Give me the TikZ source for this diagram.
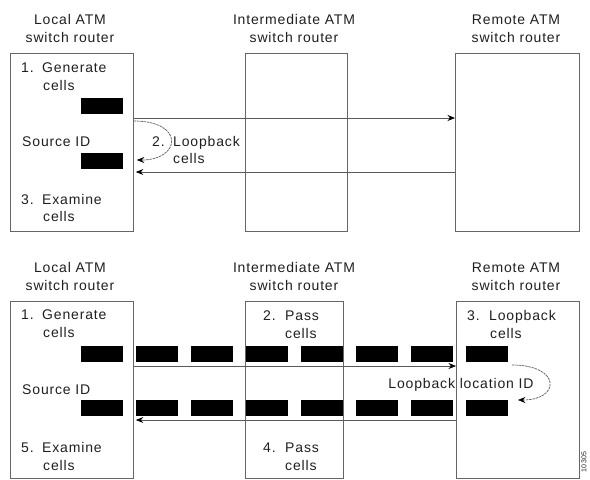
\documentclass[tikz,border=0pt]{standalone}
\usepackage{fontspec}
\setmainfont{Liberation Sans}[LetterSpace=6]
\usetikzlibrary{arrows.meta}
\begin{document}
\begin{tikzpicture}[x=1pt,y=-1pt,
  every node/.style={font=\fontsize{14}{16}\selectfont, text=black!88},
  box/.style={draw=black!60, line width=0.8pt, anchor=north west, inner sep=0pt},
  cellbox/.style={fill=black, draw=none, anchor=north west, inner sep=0pt, minimum width=41.5pt, minimum height=15.5pt},
  lbl/.style={anchor=base west, inner sep=0pt},
  ttl/.style={anchor=base, inner sep=0pt},
  conn/.style={draw=black!65, line width=0.7pt, -{Stealth[length=7.5pt,width=6pt,color=black]}},
  loopc/.style={draw=black!65, line width=0.7pt, dash pattern=on 2.5pt off 0.8pt, -{Stealth[length=7.5pt,width=6pt,color=black]}}
]
\useasboundingbox (0,0) rectangle (590,480);
% ---------- top panel ----------
\node[box, minimum width=123pt, minimum height=178pt] (L1) at (10,53) {};
\node[box, minimum width=102pt, minimum height=178pt] (M1) at (245,53) {};
\node[box, minimum width=124pt, minimum height=178pt] (R1) at (455,53) {};
\node[ttl] (tl1a) at (70,24) {Local ATM};
\node[ttl] (tl1b) at (70,42) {switch router};
\node[ttl] (tm1a) at (294,24) {Intermediate ATM};
\node[ttl] (tm1b) at (294,42) {switch router};
\node[ttl] (tr1a) at (516,24) {Remote ATM};
\node[ttl] (tr1b) at (516,42) {switch router};
\node[lbl] (n1) at (21,72) {1.};
\node[lbl] (g1) at (42,72) {Generate};
\node[lbl] (c1) at (43,90) {cells};
\node[lbl] (s1) at (22,146) {Source ID};
\node[lbl] (n3) at (21,204) {3.};
\node[lbl] (e1) at (42,204) {Examine};
\node[lbl] (c3) at (43,221) {cells};
\node[cellbox] (k1) at (81,98) {};
\node[cellbox] (k2) at (81,153) {};
\node[lbl] (n2) at (152,146) {2.};
\node[lbl] (lb1) at (173,146) {Loopback};
\node[lbl] (lc1) at (173,163) {cells};
\draw[conn] (L1.east |- 0,118) -- (R1.west |- 0,118);
\draw[conn] (R1.west |- 0,172) -- ([xshift=2pt]L1.east |- 0,172);
\draw[loopc] (L1.east |- 0,121) .. controls (185,121) and (181,160) .. ([xshift=3pt]L1.east |- 0,160);
% ---------- bottom panel ----------
\node[box, minimum width=123pt, minimum height=177pt] (L2) at (10,301) {};
\node[box, minimum width=98pt, minimum height=177pt] (M2) at (245,301) {};
\node[box, minimum width=123pt, minimum height=177pt] (R2) at (456,301) {};
\node[ttl] (tl2a) at (70,272) {Local ATM};
\node[ttl] (tl2b) at (70,290) {switch router};
\node[ttl] (tm2a) at (294,272) {Intermediate ATM};
\node[ttl] (tm2b) at (294,290) {switch router};
\node[ttl] (tr2a) at (516,272) {Remote ATM};
\node[ttl] (tr2b) at (516,290) {switch router};
\node[lbl] (b1) at (21,319) {1.};
\node[lbl] (bg) at (42,319) {Generate};
\node[lbl] (bc1) at (43,337) {cells};
\node[lbl] (bs) at (22,394) {Source ID};
\node[lbl] (b5) at (21,452) {5.};
\node[lbl] (be) at (42,452) {Examine};
\node[lbl] (bc5) at (43,470) {cells};
\node[lbl] (b2) at (263,320) {2.};
\node[lbl] (bp2) at (285,320) {Pass};
\node[lbl] (bc2) at (285,338) {cells};
\node[lbl] (b4) at (263,452) {4.};
\node[lbl] (bp4) at (285,452) {Pass};
\node[lbl] (bc4) at (285,470) {cells};
\node[lbl] (b3) at (467,320) {3.};
\node[lbl] (blb) at (489,320) {Loopback};
\node[lbl] (bc3) at (490,338) {cells};
\node[ttl] (lli) at (461,388) {Loopback location ID};
\foreach \i/\x in {1/81,2/136,3/191,4/246,5/301,6/356,7/411,8/466}{
  \node[cellbox] (u\i) at (\x,346) {};
  \node[cellbox] (d\i) at (\x,400) {};
}
\draw[conn] (L2.east |- 0,366) -- (R2.west |- 0,366);
\draw[conn] (R2.west |- 0,420) -- ([xshift=2pt]L2.east |- 0,420);
\draw[loopc] (512,365) .. controls (561,365) and (561,400) .. ([xshift=10pt]u8.east |- 0,400);
\node[inner sep=0pt, rotate=90, font=\fontsize{7}{8}\selectfont] (fig) at (584,462) {10305};
\end{tikzpicture}
\end{document}
